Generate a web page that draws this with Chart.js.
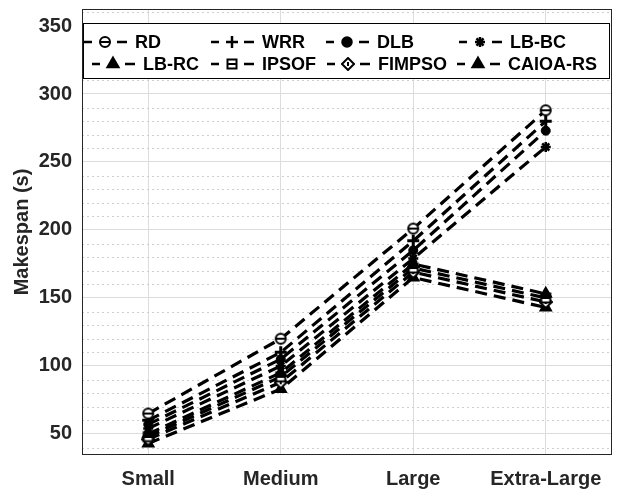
<!DOCTYPE html>
<html>
<head>
<meta charset="utf-8">
<script src="https://cdn.jsdelivr.net/npm/chart.js@4.4.0/dist/chart.umd.min.js"></script>
<style>
  body { margin: 0; background: #fff; }
</style>
</head>
<body>
<canvas id="chart" width="633" height="490"></canvas>
<script>
const categories = ['Small', 'Medium', 'Large', 'Extra-Large'];
const seriesNames = ['RD', 'WRR', 'DLB', 'LB-BC', 'LB-RC', 'IPSOF', 'FIMPSO', 'CAIOA-RS'];
const rd      = [65, 120, 201, 288];
const wrr     = [60, 110, 192, 280];
const dlb     = [57, 105, 185, 273];
const lbbc    = [54, 100, 179, 261];
const lbrc    = [50,  95, 175, 153];
const ipsof   = [48,  92, 172, 150];
const fimpso  = [46,  88, 169, 147];
const caioars = [43,  83, 165, 143];
const yTicks = [50, 100, 150, 200, 250, 300, 350];

// small canvases for the markers Chart.js has no built-in for
function makeMarker(draw) {
    const c = document.createElement('canvas');
    c.width = 14; c.height = 14;
    const g = c.getContext('2d');
    g.strokeStyle = '#000'; g.fillStyle = '#fff'; g.lineWidth = 2;
    draw(g);
    return c;
}
const thetaMarker = makeMarker(g => {
    g.beginPath(); g.arc(7, 7, 5, 0, Math.PI * 2); g.fill(); g.stroke();
    g.beginPath(); g.moveTo(2, 7); g.lineTo(12, 7); g.stroke();
});
const boxMarker = makeMarker(g => {
    g.fillRect(2, 2, 10, 10); g.strokeRect(2.5, 2.5, 9, 9);
    g.beginPath(); g.moveTo(3, 7); g.lineTo(11, 7); g.stroke();
});
const diamondMarker = makeMarker(g => {
    g.beginPath(); g.moveTo(7, 1); g.lineTo(13, 7); g.lineTo(7, 13); g.lineTo(1, 7); g.closePath();
    g.fill(); g.stroke();
    g.fillStyle = '#000'; g.fillRect(6, 5, 2, 4);
});

const seriesData = [rd, wrr, dlb, lbbc, lbrc, ipsof, fimpso, caioars];
const markers = [
    { style: thetaMarker, radius: 6, width: 2 },
    { style: 'cross', radius: 6, width: 3 },
    { style: 'circle', radius: 4.5, width: 1 },
    { style: 'star', radius: 5, width: 2.5 },
    { style: 'triangle', radius: 6, width: 2 },
    { style: boxMarker, radius: 6, width: 2 },
    { style: diamondMarker, radius: 6, width: 2 },
    { style: 'triangle', radius: 6, width: 2 },
];

const datasets = seriesNames.map((name, i) => ({
    label: name,
    data: seriesData[i],
    borderColor: '#000',
    backgroundColor: '#000',
    borderWidth: 3.2,
    borderDash: [12, 7],
    fill: false,
    tension: 0,
    pointStyle: markers[i].style,
    pointRadius: markers[i].radius,
    pointBorderWidth: markers[i].width,
    pointBackgroundColor: '#000',
    pointBorderColor: '#000',
}));

// dotted minor grid, every 10 units
const minorGrid = {
    id: 'minorGrid',
    beforeDatasetsDraw(chart) {
        const { ctx, chartArea, scales } = chart;
        ctx.save();
        ctx.strokeStyle = '#cfcfcf';
        ctx.lineWidth = 1;
        ctx.setLineDash([2, 3]);
        for (let v = 40; v <= 360; v += 10) {
            if (v % 50 === 0) continue;
            const y = Math.round(scales.y.getPixelForValue(v)) + 0.5;
            if (y < chartArea.top || y > chartArea.bottom) continue;
            ctx.beginPath();
            ctx.moveTo(chartArea.left, y);
            ctx.lineTo(chartArea.right, y);
            ctx.stroke();
        }
        ctx.restore();
    }
};

// axes box and the legend inside the plot
const boxAndLegend = {
    id: 'boxAndLegend',
    afterDraw(chart) {
        const { ctx, chartArea } = chart;
        ctx.save();
        ctx.strokeStyle = '#262626';
        ctx.lineWidth = 1;
        ctx.strokeRect(chartArea.left + 0.5, chartArea.top + 0.5,
            chartArea.right - chartArea.left - 1, chartArea.bottom - chartArea.top - 1);

        // legend
        const lx = 83, ly = 23, lw = 526, lh = 55;
        ctx.fillStyle = '#fff';
        ctx.fillRect(lx, ly, lw, lh);
        ctx.strokeStyle = '#000';
        ctx.strokeRect(lx + 0.5, ly + 0.5, lw, lh);

        const textX = [[135, 262, 377, 510], [143, 262, 378, 508]];
        const rowY = [42, 64];
        ctx.font = 'bold 18px "Liberation Sans", Arial, sans-serif';
        ctx.textBaseline = 'middle';
        chart.data.datasets.forEach((ds, i) => {
            const row = Math.floor(i / 4), col = i % 4;
            const tx = textX[row][col], y = rowY[row];
            ctx.strokeStyle = '#000';
            ctx.lineWidth = 2.5;
            ctx.setLineDash([]);
            ctx.beginPath();
            ctx.moveTo(tx - 51, y); ctx.lineTo(tx - 43, y);
            ctx.moveTo(tx - 18, y); ctx.lineTo(tx - 8, y);
            ctx.stroke();
            ctx.fillStyle = '#000';
            Chart.helpers.drawPoint(ctx, {
                pointStyle: ds.pointStyle,
                radius: ds.pointRadius,
                borderWidth: ds.pointBorderWidth,
                rotation: 0
            }, tx - 30, y);
            ctx.fillStyle = '#000';
            ctx.fillText(ds.label, tx, y + 1);
        });
        ctx.restore();
    }
};

const tickFont = { family: '"Liberation Sans", Arial, sans-serif', size: 20, weight: 'bold' };

function noLabelPadding(scale) {
    scale.paddingTop = 0;
    scale.paddingBottom = 0;
    scale.paddingLeft = 0;
    scale.paddingRight = 0;
}

new Chart(document.getElementById('chart'), {
    type: 'line',
    data: { labels: categories, datasets: datasets },
    options: {
        responsive: false,
        animation: false,
        layout: { padding: { top: 9, right: 21, left: 0, bottom: 0 } },
        plugins: { legend: { display: false }, tooltip: { enabled: false } },
        scales: {
            x: {
                offset: true,
                grid: { color: '#dcdcdc', drawTicks: false, offset: false },
                border: { display: false },
                ticks: { font: tickFont, color: '#262626', padding: 12, maxRotation: 0 },
                afterFit(scale) { scale.height = 35; noLabelPadding(scale); }
            },
            y: {
                min: 34.5,
                max: 362.5,
                afterBuildTicks(scale) { scale.ticks = yTicks.map(v => ({ value: v })); },
                grid: { color: '#dcdcdc', drawTicks: false },
                border: { display: false },
                ticks: { font: tickFont, color: '#262626', padding: 10 },
                title: {
                    display: true,
                    text: 'Makespan (s)',
                    font: { family: '"Liberation Sans", Arial, sans-serif', size: 20, weight: 'bold' },
                    color: '#262626',
                    padding: { top: 10, bottom: 0 }
                },
                afterFit(scale) { scale.width = 82; noLabelPadding(scale); }
            }
        }
    },
    plugins: [minorGrid, boxAndLegend]
});
</script>
</body>
</html>
